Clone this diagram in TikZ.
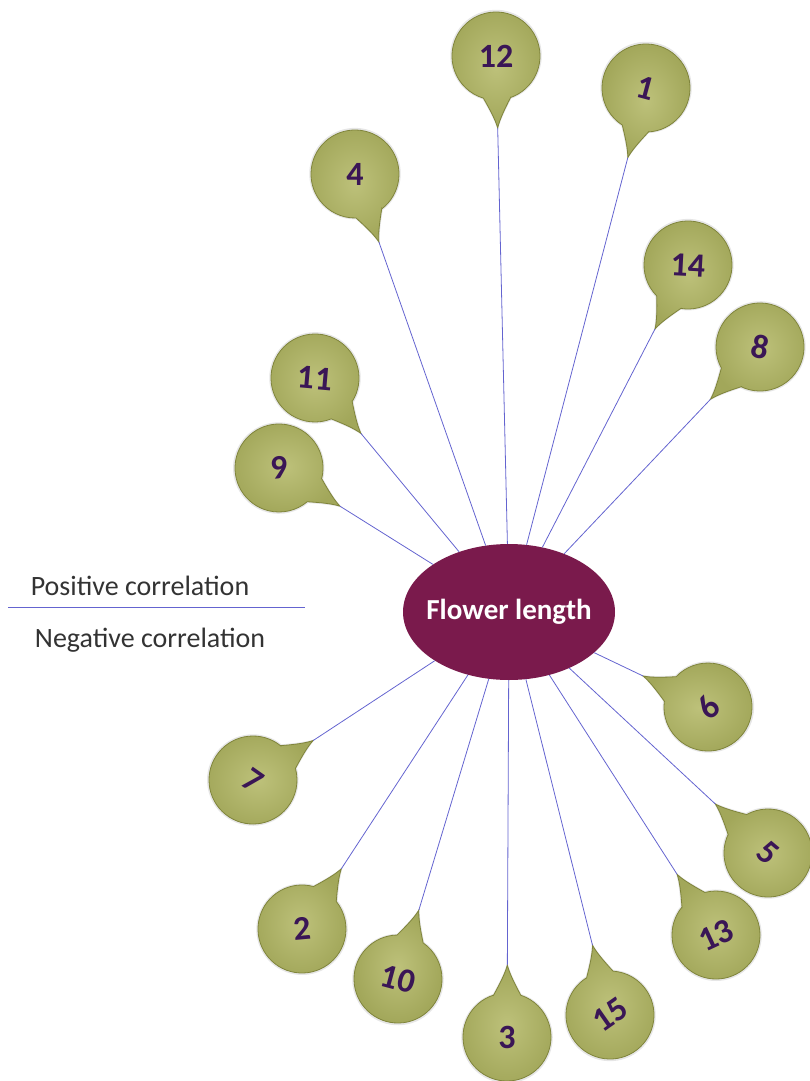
\documentclass[tikz,border=0pt]{standalone}
\usepackage{fontspec}
\setmainfont{Carlito}
\usetikzlibrary{shapes.geometric,shadows}

\definecolor{bubblegreen}{HTML}{A2A75A}
\definecolor{bubbleedge}{HTML}{7F843B}
\definecolor{bubblelight}{HTML}{BDC17A}
\definecolor{traitred}{HTML}{7A1A4C}
\definecolor{numpurple}{HTML}{3A1656}
\definecolor{linkblue}{HTML}{6464D0}

\tikzset{
  bubble/.style={draw=bubbleedge, line width=0.8pt, inner color=bubblelight, outer color=bubblegreen,
    drop shadow={opacity=0.2, shadow xshift=0pt, shadow yshift=0pt, shadow scale=1.04}},
  num/.style={font=\bfseries\fontsize{34}{34}\selectfont, text=numpurple, inner sep=0pt},
  link/.style={draw=linkblue, line width=0.8pt},
  trait/.style={ellipse, fill=traitred, text=white, inner sep=0pt,
    font=\bfseries\fontsize{29}{29}\selectfont, minimum width=212pt, minimum height=136pt},
  legend/.style={font=\fontsize{28}{28}\selectfont, text=black!80, inner sep=0pt}
}

\begin{document}
\begin{tikzpicture}[x=1pt, y=1pt]
    \useasboundingbox (0,0) rectangle (810,-1081);

    % trait in the middle (text kept out of the shape size)
    \node[trait] (fl) at (509,-612) {\makebox[0pt]{Flower length}};

    % legend on the left
    \node[legend] (pos) at (140,-586) {Positive correlation};
    \node[legend] (neg) at (150,-640) {Negative correlation};
    \coordinate (sepl) at (8,-607);
    \coordinate (sepr) at (305,-607);
    \draw[link] (sepl) -- (sepr);

    % callouts: label / centre x / centre y / text angle
    \foreach \n/\x/\y/\r in {12/496/56/0, 1/646/88/-15, 4/355/174/0, 14/688/265/-3,
                             8/760/347/-12, 11/315/378/-5, 9/279/468/5,
                             6/708/707/45, 5/768/853/-40, 13/716/935/25, 15/610/1015/35,
                             3/507/1037/0, 10/398/979/-15, 2/302/929/5, 7/253/780/-35} {
        \pgfmathsetmacro\ang{atan2(\y-612, 509-\x)}
        \begin{scope}[shift={(\x,-\y)}, rotate=\ang]
            \path[bubble] (18:44) arc[start angle=18, end angle=342, radius=44]
                .. controls (54,-7) and (64,-2) .. (72,0)
                .. controls (64,2) and (54,7) .. cycle;
            \coordinate (t\n) at (72,0);
        \end{scope}
        \node[num, rotate=\r] (b\n) at (\x,-\y) {\n};
        \draw[link] (t\n) -- (fl);
    }
\end{tikzpicture}
\end{document}
